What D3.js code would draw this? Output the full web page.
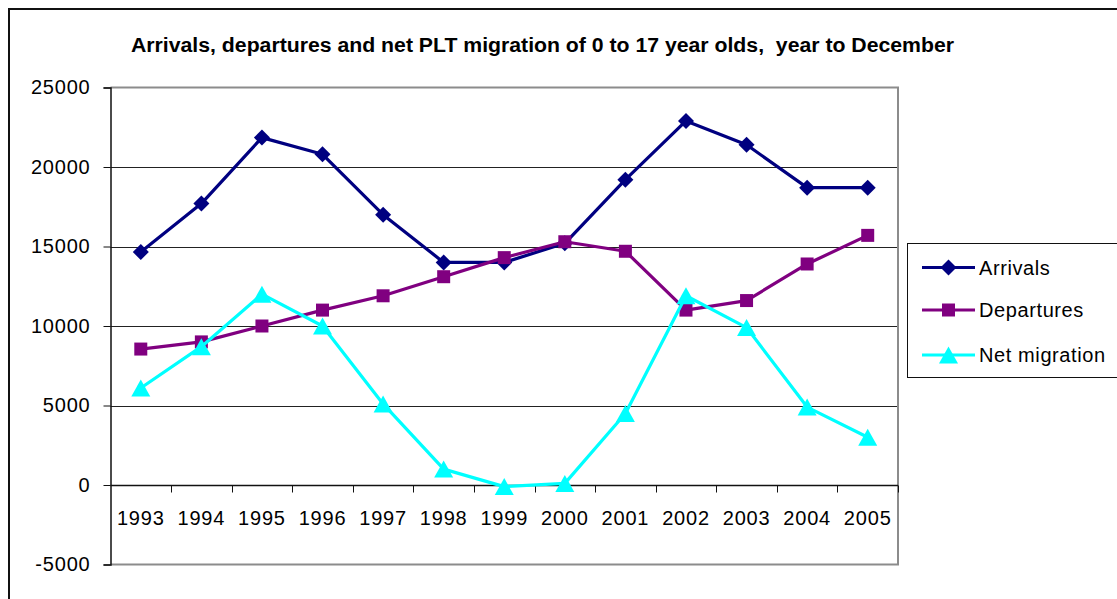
<!DOCTYPE html>
<html>
<head>
<meta charset="utf-8">
<script src="https://cdn.jsdelivr.net/npm/d3@7"></script>
<style>
  body { margin: 0; background: #fff; }
  svg { display: block; font-family: Arial, "Liberation Sans", sans-serif; }
</style>
</head>
<body>
<svg id="chart" width="1117" height="599"></svg>
<script>
const years = ['1993', '1994', '1995', '1996', '1997', '1998', '1999', '2000', '2001', '2002', '2003', '2004', '2005']
const arrivals = [14650, 17700, 21850, 20800, 17000, 14000, 14000, 15200, 19200, 22900, 21400, 18700, 18700]
const departures = [8550, 9000, 10000, 11000, 11900, 13100, 14300, 15300, 14700, 11000, 11600, 13900, 15700]
const netMigration = [6100, 8700, 12000, 10000, 5100, 1000, -100, 100, 4500, 11900, 9900, 4900, 3000]
const yTicks = [-5000, 0, 5000, 10000, 15000, 20000, 25000]
const seriesNames = ['Arrivals', 'Departures', 'Net migration']

const title = 'Arrivals, departures and net PLT migration of 0 to 17 year olds,  year to December'

const plot = { left: 110.5, right: 898, top: 87.5, bottom: 564.5 }

const svg = d3.select('svg#chart')

const x = d3.scaleBand().domain(years).range([plot.left, plot.right])
const y = d3.scaleLinear().domain([-5000, 25000]).range([plot.bottom, plot.top])
const cx = d => x(d) + x.bandwidth() / 2

const series = [
  { name: seriesNames[0], values: arrivals, color: '#000080', shape: 'diamond' },
  { name: seriesNames[1], values: departures, color: '#800080', shape: 'square' },
  { name: seriesNames[2], values: netMigration, color: '#00ffff', shape: 'triangle' }
]

function markerPath (shape) {
  if (shape === 'diamond') return 'M0,-8L8,0L0,8L-8,0Z'
  if (shape === 'square') return 'M-6.5,-6.5H6.5V6.5H-6.5Z'
  return 'M0,-8.5L9.5,8.5H-9.5Z'
}

// outer chart border
svg.append('rect')
  .attr('x', 9).attr('y', 9)
  .attr('width', 1130).attr('height', 620)
  .attr('fill', 'none')
  .attr('stroke', '#111')
  .attr('stroke-width', 2)

svg.append('text')
  .attr('x', 542.5).attr('y', 51.5)
  .attr('text-anchor', 'middle')
  .attr('font-weight', 'bold')
  .attr('font-size', 20)
  .attr('textLength', 823)
  .attr('lengthAdjust', 'spacingAndGlyphs')
  .style('white-space', 'pre')
  .text(title)

// gridlines
svg.append('g')
  .selectAll('line')
  .data(yTicks.filter(t => t !== 25000 && t !== -5000 && t !== 0))
  .join('line')
  .attr('x1', plot.left).attr('x2', plot.right)
  .attr('y1', d => Math.round(y(d)) + 0.5).attr('y2', d => Math.round(y(d)) + 0.5)
  .attr('stroke', '#222')

// plot frame (top, right, bottom)
svg.append('path')
  .attr('d', `M${plot.left},${plot.top}H${plot.right}V${plot.bottom}H${plot.left}`)
  .attr('fill', 'none')
  .attr('stroke', '#8c8c8c')
  .attr('stroke-width', 2)

// y axis
const yAxis = svg.append('g')
  .attr('transform', `translate(${plot.left},0)`)
  .call(d3.axisLeft(y).tickValues(yTicks).tickSize(7).tickPadding(13).tickFormat(d => String(d)))
yAxis.select('.domain').attr('stroke', '#111').attr('stroke-width', 1.5)
yAxis.selectAll('.tick line').attr('stroke', '#111')
yAxis.selectAll('.tick text')
  .attr('font-size', 20)
  .attr('letter-spacing', 0.8)
  .attr('fill', '#000')
  .attr('font-family', 'Arial, "Liberation Sans", sans-serif')

// x axis at zero
const zeroY = Math.round(y(0)) + 0.5
svg.append('line')
  .attr('x1', plot.left).attr('x2', plot.right)
  .attr('y1', zeroY).attr('y2', zeroY)
  .attr('stroke', '#111').attr('stroke-width', 1.5)
svg.append('g')
  .selectAll('line')
  .data(years)
  .join('line')
  .attr('x1', d => Math.round(x(d) + x.bandwidth()) + 0.5)
  .attr('x2', d => Math.round(x(d) + x.bandwidth()) + 0.5)
  .attr('y1', zeroY).attr('y2', zeroY + 7)
  .attr('stroke', '#111')
svg.append('g')
  .selectAll('text')
  .data(years)
  .join('text')
  .attr('x', d => cx(d))
  .attr('y', 525)
  .attr('text-anchor', 'middle')
  .attr('font-size', 20)
  .attr('letter-spacing', 0.8)
  .text(d => d)

// series lines and markers
const line = d3.line().x((d, i) => cx(years[i])).y(d => y(d))

series.forEach(s => {
  svg.append('path')
    .attr('d', line(s.values))
    .attr('fill', 'none')
    .attr('stroke', s.color)
    .attr('stroke-width', 3.2)
    .attr('stroke-linejoin', 'round')
  svg.append('g')
    .selectAll('path')
    .data(s.values)
    .join('path')
    .attr('transform', (d, i) => `translate(${cx(years[i])},${y(d)})`)
    .attr('d', markerPath(s.shape))
    .attr('fill', s.color)
})

// legend
const legend = svg.append('g')
legend.append('rect')
  .attr('x', 907.5).attr('y', 243.5)
  .attr('width', 220).attr('height', 134)
  .attr('fill', '#fff')
  .attr('stroke', '#111')
const legendRows = [267.5, 310, 355]
series.forEach((s, i) => {
  const row = legend.append('g').attr('transform', `translate(0,${legendRows[i]})`)
  row.append('line')
    .attr('x1', 922).attr('x2', 975)
    .attr('stroke', s.color).attr('stroke-width', 3.2)
  row.append('path')
    .attr('transform', 'translate(948.5,0)')
    .attr('d', markerPath(s.shape))
    .attr('fill', s.color)
  row.append('text')
    .attr('x', 979).attr('y', 7)
    .attr('font-size', 20)
    .attr('letter-spacing', 0.6)
    .text(s.name)
})
</script>
</body>
</html>
